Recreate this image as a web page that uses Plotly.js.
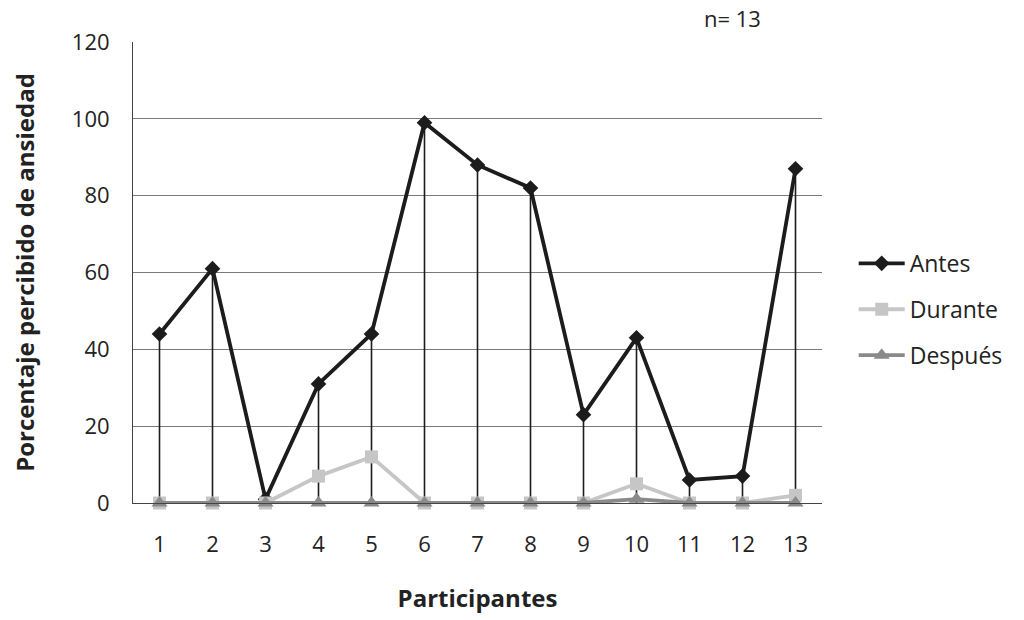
<!DOCTYPE html>
<html>
<head>
<meta charset="utf-8">
<script src="https://cdn.plot.ly/plotly-3.0.1.min.js"></script>
<style>html,body{margin:0;padding:0;background:#fff;}#chart{width:1024px;height:620px;}</style>
</head>
<body>
<div id="chart"></div>
<script>
const participantes = ['1','2','3','4','5','6','7','8','9','10','11','12','13'];
const antes   = [44, 61, 1, 31, 44, 99, 88, 82, 23, 43, 6, 7, 87];
const durante = [0, 0, 0, 7, 12, 0, 0, 0, 0, 5, 0, 0, 2];
const despues = [0, 0, 0, 0, 0, 0, 0, 0, 0, 1, 0, 0, 0];
const yTicks = [0, 20, 40, 60, 80, 100, 120];

const FONT = '"Open Sans", "Noto Sans", sans-serif';

const traces = [
  {
    x: participantes, y: antes, name: 'Antes', type: 'scatter', mode: 'lines+markers',
    legendgroup: 'a', cliponaxis: false,
    line: {color: '#1c1c1c', width: 3.8},
    marker: {symbol: 'diamond', size: 12, color: '#1c1c1c'},
    error_y: {type: 'data', symmetric: false, array: antes.map(() => 0), arrayminus: antes,
              width: 0, thickness: 1.6, color: '#1c1c1c'}
  },
  {
    x: participantes, y: durante, name: 'Durante', type: 'scatter', mode: 'lines+markers',
    legendgroup: 'b', cliponaxis: false,
    line: {color: '#c6c6c6', width: 3.8},
    marker: {symbol: 'square', size: 13, color: '#c6c6c6'}
  },
  {
    x: participantes, y: despues, name: 'Después', type: 'scatter', mode: 'lines+markers',
    legendgroup: 'c', cliponaxis: false,
    line: {color: '#8a8a8a', width: 3.8},
    marker: {symbol: 'triangle-up', size: 14, color: '#8a8a8a'}
  }
];

const layout = {
  width: 1024, height: 620,
  margin: {l: 133, r: 202, t: 42, b: 117},
  paper_bgcolor: '#ffffff', plot_bgcolor: '#ffffff',
  font: {family: FONT, size: 18, color: '#222'},
  showlegend: true,
  legend: {x: 1.046, xanchor: 'left', y: 0.42, yanchor: 'middle', tracegroupgap: 13,
           itemwidth: 46,
           font: {family: FONT, size: 23, color: '#222'}, bgcolor: 'rgba(0,0,0,0)'},
  xaxis: {
    type: 'category', range: [-0.5, 12.5],
    showgrid: false, zeroline: false,
    showline: true, linecolor: '#444', linewidth: 1,
    ticks: '', ticklabelstandoff: 22,
    tickfont: {family: FONT, size: 22, color: '#222'},
    title: {text: '<b>Participantes</b>', font: {family: FONT, size: 24, color: '#222'}, standoff: 32}
  },
  yaxis: {
    range: [0, 120], tickvals: yTicks,
    showgrid: true, gridcolor: '#7a7a7a', gridwidth: 1,
    zeroline: false,
    showline: true, linecolor: '#444', linewidth: 1,
    ticks: '', ticklabelstandoff: 18,
    tickfont: {family: FONT, size: 22, color: '#222'},
    title: {text: '<b>Porcentaje percibido de ansiedad</b>', font: {family: FONT, size: 24, color: '#222'}, standoff: 30}
  },
  annotations: [
    {text: 'n= 13', xref: 'paper', yref: 'paper', x: 0.87, y: 1.015, xanchor: 'center', yanchor: 'bottom',
     showarrow: false, font: {family: FONT, size: 22, color: '#222'}}
  ]
};

Plotly.newPlot('chart', traces, layout, {displayModeBar: false, staticPlot: true});
</script>
</body>
</html>
